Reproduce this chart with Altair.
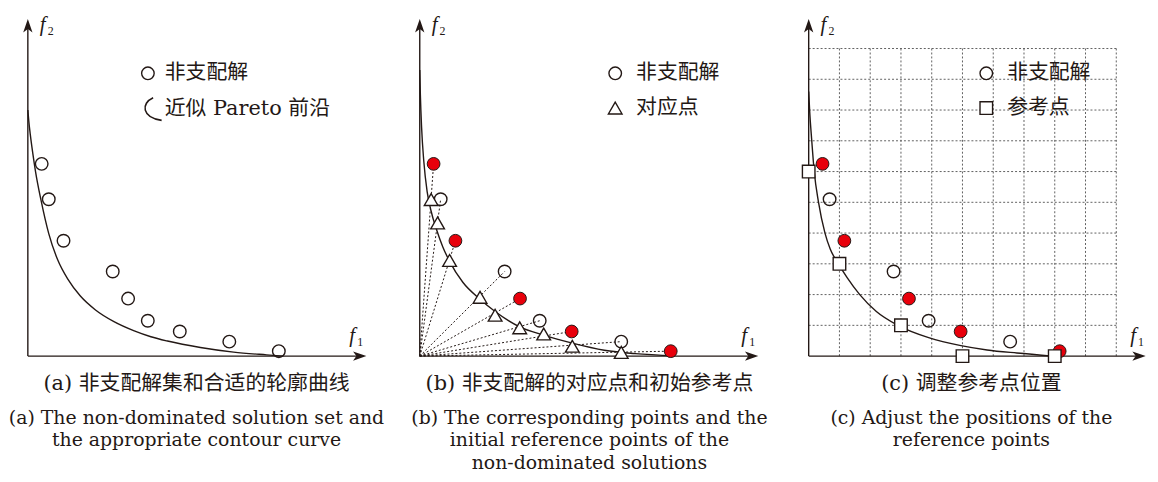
import altair as alt
import pandas as pd

# ---------------- data (1 unit = one grid cell) ----------------
sol_f1 = [0.45, 0.68, 1.16, 2.76, 3.26, 3.90, 4.94, 6.55, 8.16]
sol_f2 = [6.25, 5.10, 3.75, 2.75, 1.87, 1.15, 0.80, 0.47, 0.16]
sol_red = [True, False, True, False, True, False, True, False, True]

tri_f1 = [0.37, 0.58, 0.97, 1.96, 2.45, 3.25, 4.03, 4.96, 6.55]
tri_f2 = [5.09, 4.33, 3.11, 1.91, 1.33, 0.92, 0.72, 0.32, 0.12]

ref_f1 = [0, 1, 3, 5, 8]
ref_f2 = [6, 3, 1, 0, 0]

ca_f1 = [0.00, 0.03, 0.08, 0.16, 0.25, 0.43, 0.68, 0.97, 1.30, 1.70, 2.20, 2.80, 3.46, 4.00, 4.54, 5.61, 6.69, 7.76, 8.30]
ca_f2 = [8.00, 7.65, 7.20, 6.60, 6.00, 5.06, 3.98, 3.13, 2.50, 1.96, 1.50, 1.12, 0.82, 0.63, 0.49, 0.28, 0.13, 0.04, 0.00]

cb_f1 = [0.00, 0.02, 0.06, 0.13, 0.24, 0.36, 0.55, 0.75, 0.97, 1.40, 1.96, 2.45, 3.25, 4.03, 4.96, 6.00, 7.00, 8.30]
cb_f2 = [9.30, 8.49, 7.43, 6.35, 5.35, 4.75, 4.10, 3.55, 3.08, 2.40, 1.85, 1.45, 0.95, 0.68, 0.42, 0.19, 0.08, 0.01]

cc_f1 = [0.00, 0.03, 0.10, 0.18, 0.32, 0.53, 0.70, 0.97, 1.25, 1.66, 2.20, 2.90, 3.90, 4.95, 5.80, 6.77, 7.94]
cc_f2 = [8.60, 8.00, 7.00, 6.00, 5.00, 4.00, 3.48, 3.00, 2.55, 2.00, 1.45, 1.00, 0.60, 0.34, 0.20, 0.10, 0.00]

grid_ticks = [1, 2, 3, 4, 5, 6, 7, 8, 9, 10]

legend_sol = "非支配解"
legend_front = "近似 Pareto 前沿"
legend_tri = "对应点"
legend_ref = "参考点"

cap_a = ["(a) 非支配解集和合适的轮廓曲线", "(a) The non-dominated solution set and", "the appropriate contour curve"]
cap_b = ["(b) 非支配解的对应点和初始参考点", "(b) The corresponding points and the", "initial reference points of the", "non-dominated solutions"]
cap_c = ["(c) 调整参考点位置", "(c) Adjust the positions of the", "reference points"]

# ---------------- tables ----------------
df_sol = pd.DataFrame({"f1": sol_f1, "f2": sol_f2, "red": sol_red})
df_tri = pd.DataFrame({"f1": tri_f1, "f2": tri_f2})
df_ref = pd.DataFrame({"f1": ref_f1, "f2": ref_f2})
df_ca = pd.DataFrame({"f1": ca_f1, "f2": ca_f2})
df_cb = pd.DataFrame({"f1": cb_f1, "f2": cb_f2})
df_cc = pd.DataFrame({"f1": cc_f1, "f2": cc_f2})
df_grid = pd.DataFrame({"g": grid_ticks})
one = alt.Data(values=[{"k": 1}])

# ---------------- styles ----------------
DARK = "#231815"
RED = "#e8000b"
GRIDC = "#606060"
SERIF = "'DejaVu Serif', 'Noto Sans CJK SC', serif"
ITAL = "'Liberation Serif', serif"

UNIT = 31.0
LEFT = 18.0
H = 466
OY = 349.0
YS = alt.Scale(domain=[-(H - OY) / UNIT, OY / UNIT], nice=False, zero=False)

ARROW_UP = "M0,-1 L0.7,1 L0,0.5 L-0.7,1 Z"
ARROW_RIGHT = "M1,0 L-1,-0.7 L-0.5,0 L-1,0.7 Z"
FRONT_GLYPH = "M0.2,-1 C-0.9,-0.5 -0.8,0.75 0.95,1"


def xscale(w):
    return alt.Scale(domain=[-LEFT / UNIT, (w - LEFT) / UNIT], nice=False, zero=False)


def text(s, x, y, size, align="center", font=SERIF, style="normal"):
    return alt.Chart(one).mark_text(
        text=s, align=align, baseline="middle", font=font, fontSize=size,
        fontStyle=style, color=DARK
    ).encode(x=alt.value(x), y=alt.value(y))


def marker(shape, x, y, size, fill, sw=1.4):
    kw = dict(shape=shape, size=size, stroke=DARK, strokeWidth=sw, opacity=1)
    if fill is None:
        kw["filled"] = False
    else:
        kw["filled"] = True
        kw["fill"] = fill
    return alt.Chart(one).mark_point(**kw).encode(x=alt.value(x), y=alt.value(y))


def axes(xs, xtip, ytip):
    xl = alt.Chart(one).mark_rule(color=DARK, strokeWidth=1.4).encode(
        x=alt.XDatum(0, type="quantitative", scale=xs, axis=None),
        x2=alt.X2Datum(xtip - 0.3),
        y=alt.YDatum(0, type="quantitative", scale=YS, axis=None),
    )
    yl = alt.Chart(one).mark_rule(color=DARK, strokeWidth=1.4).encode(
        x=alt.XDatum(0, type="quantitative", scale=xs, axis=None),
        y=alt.YDatum(0, type="quantitative", scale=YS, axis=None),
        y2=alt.Y2Datum(ytip - 0.3),
    )
    xa = alt.Chart(one).mark_point(shape=ARROW_RIGHT, filled=True, color=DARK, size=180, opacity=1).encode(
        x=alt.XDatum(xtip - 0.21, type="quantitative", scale=xs, axis=None),
        y=alt.YDatum(0, type="quantitative", scale=YS, axis=None),
    )
    ya = alt.Chart(one).mark_point(shape=ARROW_UP, filled=True, color=DARK, size=180, opacity=1).encode(
        x=alt.XDatum(0, type="quantitative", scale=xs, axis=None),
        y=alt.YDatum(ytip - 0.21, type="quantitative", scale=YS, axis=None),
    )
    labs = [
        text("f", 30, 15, 21, align="left", font=ITAL, style="italic"),
        text("2", 38, 21, 12, align="left", font=ITAL),
        text("f", 342, 329, 21, align="left", font=ITAL, style="italic"),
        text("1", 350, 335, 12, align="left", font=ITAL),
    ]
    return [xl, yl, xa, ya] + labs


def curve(df, xs):
    return alt.Chart(df).mark_line(color=DARK, strokeWidth=1.4, interpolate="monotone").encode(
        x=alt.X("f1:Q", scale=xs, axis=None), y=alt.Y("f2:Q", scale=YS, axis=None)
    )


def sols(xs, colored):
    enc = dict(x=alt.X("f1:Q", scale=xs, axis=None), y=alt.Y("f2:Q", scale=YS, axis=None))
    if not colored:
        return [alt.Chart(df_sol).mark_point(shape="circle", size=160, filled=False, stroke=DARK,
                                             strokeWidth=1.4, opacity=1).encode(**enc)]
    hollow = alt.Chart(df_sol).transform_filter("!datum.red").mark_point(
        shape="circle", size=160, filled=False, stroke=DARK, strokeWidth=1.4, opacity=1).encode(**enc)
    red = alt.Chart(df_sol).transform_filter("datum.red").mark_point(
        shape="circle", size=165, filled=True, fill=RED, stroke=DARK, strokeWidth=1.0, opacity=1).encode(**enc)
    return [hollow, red]


def captions(lines, cx):
    ys = [377, 411, 434, 457]
    out = [text(lines[0], cx, ys[0], 21)]
    for i, s in enumerate(lines[1:]):
        out.append(text(s, cx, ys[i + 1], 19))
    return out


# ---------------- panel (a) ----------------
WA, WB, WC = 395, 392, 362
xa = xscale(WA)
panel_a = alt.layer(
    *axes(xa, 11.0, 10.95),
    curve(df_ca, xa),
    *sols(xa, False),
    marker("circle", 139, 64, 160, None),
    text(legend_sol, 156, 64, 21, align="left"),
    marker(FRONT_GLYPH, 142, 100, 520, None, sw=1.6),
    text(legend_front, 156, 100, 21, align="left"),
    *captions(cap_a, 188),
).properties(width=WA, height=H)

# ---------------- panel (b) ----------------
xb = xscale(WB)
rays = alt.Chart(df_sol).transform_calculate(z="0").mark_rule(
    strokeDash=[2, 2], color=DARK, strokeWidth=1).encode(
    x=alt.X("z:Q", scale=xb, axis=None), y=alt.Y("z:Q", scale=YS, axis=None),
    x2="f1:Q", y2="f2:Q")
tris = alt.Chart(df_tri).mark_point(shape="triangle-up", size=190, filled=True, fill="white",
                                    stroke=DARK, strokeWidth=1.4, opacity=1).encode(
    x=alt.X("f1:Q", scale=xb, axis=None), y=alt.Y("f2:Q", scale=YS, axis=None))
panel_b = alt.layer(
    *axes(xb, 11.0, 10.95),
    curve(df_cb, xb),
    rays,
    *sols(xb, True),
    tris,
    marker("circle", 215, 64, 160, None),
    text(legend_sol, 236, 64, 21, align="left"),
    marker("triangle-up", 215, 99, 190, "white"),
    text(legend_tri, 236, 99, 21, align="left"),
    *captions(cap_b, 189),
).properties(width=WB, height=H)

# ---------------- panel (c) ----------------
xc = xscale(WC)
vgrid = alt.Chart(df_grid).mark_rule(strokeDash=[2, 2], color=GRIDC, strokeWidth=1).encode(
    x=alt.X("g:Q", scale=xc, axis=None),
    y=alt.YDatum(0, type="quantitative", scale=YS, axis=None), y2=alt.Y2Datum(10))
hgrid = alt.Chart(df_grid).mark_rule(strokeDash=[2, 2], color=GRIDC, strokeWidth=1).encode(
    y=alt.Y("g:Q", scale=YS, axis=None),
    x=alt.XDatum(0, type="quantitative", scale=xc, axis=None), x2=alt.X2Datum(10))
squares = alt.Chart(df_ref).mark_point(shape="square", size=160, filled=True, fill="white",
                                       stroke=DARK, strokeWidth=1.4, opacity=1).encode(
    x=alt.X("f1:Q", scale=xc, axis=None), y=alt.Y("f2:Q", scale=YS, axis=None))
panel_c = alt.layer(
    vgrid, hgrid,
    *axes(xc, 10.95, 10.95),
    curve(df_cc, xc),
    *sols(xc, True),
    squares,
    marker("circle", 197, 64, 160, None),
    text(legend_sol, 218, 64, 21, align="left"),
    marker("square", 197, 99, 160, "white"),
    text(legend_ref, 218, 99, 21, align="left"),
    *captions(cap_c, 182),
).properties(width=WC, height=H)

chart = alt.hconcat(panel_a, panel_b, panel_c, spacing=0, bounds="flush").properties(
    padding=0
).configure_view(stroke=None)

chart.save("out.html", embed_options={"renderer": "svg", "actions": False})
